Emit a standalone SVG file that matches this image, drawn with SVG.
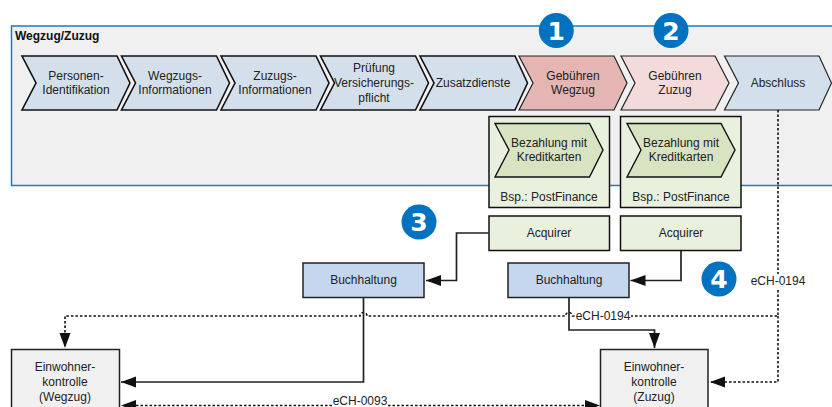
<svg xmlns="http://www.w3.org/2000/svg" width="832" height="407" viewBox="0 0 832 407">
<style>
text{font-family:"Liberation Sans",Arial,sans-serif;font-size:12px;fill:#222;text-anchor:middle}
.b{fill:#d4dfec;stroke:#111;stroke-width:1.6}
.t{stroke:#222;stroke-width:1.2}
.c{fill:none;stroke:#222;stroke-width:1.7}
.d{fill:none;stroke:#111;stroke-width:1.6;stroke-dasharray:2.500 2}
.g{fill:#e9f0de;stroke:#111;stroke-width:1.5}
.gc{fill:#d8e3c2;stroke:#111;stroke-width:1.4}
.bl{fill:#c5d7ee;stroke:#222;stroke-width:1.5}
.e{fill:#f0f0f0;stroke:#222;stroke-width:1.5}
.n{fill:#0072c0}
text.nt{fill:#fff;font-size:25px;font-weight:bold;font-family:"DejaVu Sans",sans-serif}
</style>
<defs>
<marker id="a" markerUnits="userSpaceOnUse" markerWidth="16" markerHeight="12" refX="15" refY="5.500" orient="auto"><path d="M0,0L15,5.500L0,11Z" fill="#111"/></marker>
</defs>
<g id="frame"><rect x="11.500" y="26" width="830" height="159.500" fill="#f0f0f0" stroke="#1a7cc8" stroke-width="1.500"/><text x="15" y="40" style="text-anchor:start;font-weight:bold;fill:#111">Wegzug/Zuzug</text></g>
<g id="s1"><path class="b" d="M22,56H117L130,83L117,110H22L36,83Z"/><text x="76" y="80">Personen-</text><text x="76" y="94">Identifikation</text></g>
<g id="s2"><path class="b" d="M121.500,56H216.500L229.500,83L216.500,110H121.500L135.500,83Z"/><text x="175" y="80">Wegzugs-</text><text x="175" y="94">Informationen</text></g>
<g id="s3"><path class="b" d="M221,56H316L329,83L316,110H221L235,83Z"/><text x="275" y="80">Zuzugs-</text><text x="275" y="94">Informationen</text></g>
<g id="s4"><path class="b" d="M320.500,56H415.500L428.500,83L415.500,110H320.500L334.500,83Z"/><text x="374" y="72">Prüfung</text><text x="374" y="87">Versicherungs-</text><text x="374" y="102">pflicht</text></g>
<g id="s5"><path class="b" d="M420,56H515L527.500,83L515,110H420L434,83Z"/><text x="473" y="87">Zusatzdienste</text></g>
<g id="s6"><path class="t" fill="#e4b5b3" d="M519,56H614L627,83L614,110H519L533,83Z"/><text x="573" y="80">Gebühren</text><text x="573" y="94">Wegzug</text></g>
<g id="s7"><path class="t" fill="#f2dbda" d="M621,56H715L729,83L715,110H621L635,83Z"/><text x="675" y="80">Gebühren</text><text x="675" y="94">Zuzug</text></g>
<g id="s8"><path class="t" fill="#d4dfec" d="M724.500,56H819L831.500,83L819,110H724.500L738.500,83Z"/><text x="778" y="87">Abschluss</text></g>
<g id="connectors">
<path class="d" d="M778,110V316H572.500A3.500,3.500 0 0 0 565.500,316H367A3.500,3.500 0 0 0 360,316H65V348" marker-end="url(#a)"/>
<path class="d" d="M778,316V382H710" marker-end="url(#a)"/>
<path class="d" d="M136,405.500H585"/>
<path class="c" d="M488.500,233H456.500V280.500H426" marker-end="url(#a)"/>
<path class="c" d="M681,250.500V280.500H630.500" marker-end="url(#a)"/>
<path class="c" d="M363.500,298V382H121" marker-end="url(#a)"/>
<path class="c" d="M569,298V330H654.500V348" marker-end="url(#a)"/>
<path d="M121,405.500L136,400V411Z" fill="#111"/>
<path d="M600,405.500L585,400V411Z" fill="#111"/>
<rect x="332" y="396" width="56" height="11" fill="#fff"/><text x="360" y="404.500">eCH-0093</text>
<rect x="575" y="310" width="56" height="12" fill="#fff"/><text x="603" y="320">eCH-0194</text>
<rect x="750" y="274" width="56" height="14" fill="#fff"/><text x="778" y="285">eCH-0194</text>
</g>
<g id="g1"><rect class="g" x="489" y="116.500" width="120.500" height="91"/><path class="gc" d="M495,123.500H589.500L603,150L589.500,177H495L509,150Z"/><text x="549" y="147">Bezahlung mit</text><text x="549" y="161">Kreditkarten</text><text x="549" y="201">Bsp.: PostFinance</text></g>
<g id="g2"><rect class="g" x="620.500" y="116.500" width="120.500" height="91"/><path class="gc" d="M627,123.500H721L735,150L721,177H627L641,150Z"/><text x="681" y="147">Bezahlung mit</text><text x="681" y="161">Kreditkarten</text><text x="681" y="201">Bsp.: PostFinance</text></g>
<g id="acq1"><rect class="g" x="489" y="216" width="120.500" height="34.500"/><text x="549" y="237">Acquirer</text></g>
<g id="acq2"><rect class="g" x="620.500" y="216" width="120.500" height="34.500"/><text x="681" y="237">Acquirer</text></g>
<g id="bh1"><rect class="bl" x="303" y="263" width="121" height="34.500"/><text x="363.500" y="284">Buchhaltung</text></g>
<g id="bh2"><rect class="bl" x="508" y="263" width="121" height="34.500"/><text x="569" y="284">Buchhaltung</text></g>
<g id="ew1"><rect class="e" x="11.500" y="349.500" width="108" height="70"/><text x="65" y="371">Einwohner-</text><text x="65" y="386">kontrolle</text><text x="65" y="401">(Wegzug)</text></g>
<g id="ew2"><rect class="e" x="600.500" y="349.500" width="107.500" height="70"/><text x="654" y="371">Einwohner-</text><text x="654" y="386">kontrolle</text><text x="654" y="401">(Zuzug)</text></g>
<g id="n1"><circle class="n" cx="556.300" cy="30.500" r="17.500"/><text class="nt" x="556.300" y="40">1</text></g>
<g id="n2"><circle class="n" cx="671" cy="30.500" r="17.500"/><text class="nt" x="671" y="40">2</text></g>
<g id="n3"><circle class="n" cx="419" cy="222" r="17.500"/><text class="nt" x="419" y="231">3</text></g>
<g id="n4"><circle class="n" cx="719" cy="279" r="17.500"/><text class="nt" x="719" y="288">4</text></g>
</svg>
